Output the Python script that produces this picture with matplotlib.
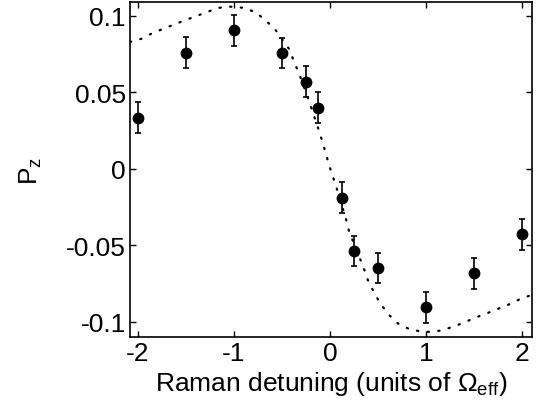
import matplotlib
matplotlib.use("Agg")
import matplotlib.pyplot as plt

# measured points (detuning in units of Omega_eff)
det = [-2.0, -1.5, -1.0, -0.5, -0.25, -0.125, 0.125, 0.25, 0.5, 1.0, 1.5, 2.0]
pz = [0.0333, 0.0758, 0.0904, 0.0756, 0.057, 0.040, -0.019, -0.0538, -0.0649, -0.0906, -0.0684, -0.0429]
pz_err = [0.0100, 0.0100, 0.0100, 0.0100, 0.0100, 0.0100, 0.0100, 0.0100, 0.0100, 0.0100, 0.0100, 0.0100]

# theory curve
th_x = [-2.08, -1.96, -1.85, -1.74, -1.62, -1.51, -1.39, -1.28, -1.17, -1.06, -0.97, -0.88,
        -0.77, -0.68, -0.57, -0.42, -0.375, -0.32, -0.23, -0.104, -0.066, -0.028, 0.01,
        0.052, 0.167, 0.2, 0.347, 0.39, 0.45, 0.52, 0.61, 0.71, 0.83, 0.94, 1.05, 1.16,
        1.27, 1.39, 1.5, 1.62, 1.73, 1.85, 1.97, 2.1]
th_y = [0.0828, 0.085, 0.0885, 0.0913, 0.0943, 0.097, 0.0998, 0.1024, 0.105, 0.106, 0.1057, 0.105,
        0.102, 0.0976, 0.091, 0.0778, 0.070, 0.062, 0.0464, 0.0229, 0.0148, 0.0065, -0.0015,
        -0.0092, -0.0331, -0.0414, -0.0643, -0.0723, -0.080, -0.0878, -0.0954, -0.1013, -0.105, -0.1063, -0.1067, -0.1057,
        -0.1035, -0.1007, -0.0976, -0.0948, -0.092, -0.089, -0.0854, -0.0824]

plt.rcParams["font.family"] = ["Liberation Sans", "DejaVu Sans"]
plt.rcParams["mathtext.fontset"] = "custom"
plt.rcParams["mathtext.rm"] = "Liberation Sans"
plt.rcParams["mathtext.it"] = "Liberation Sans"

FS = 19
fig = plt.figure(figsize=(5.38, 4.14), dpi=100)
ax = fig.add_axes([0.2416, 0.1836, 0.7472, 0.8092])

ax.plot(th_x, th_y, color="k", lw=1.6, linestyle=(0, (0.6, 4.2)), dash_capstyle="round")
ax.errorbar(det, pz, yerr=pz_err, fmt="o", color="k", ms=7.5, capsize=2.5, elinewidth=1.2, capthick=1.2)

ax.set_xlim(-2.08, 2.1)
ax.set_ylim(-0.11, 0.109)
ax.set_xticks([-2, -1, 0, 1, 2])
ax.set_yticks([-0.1, -0.05, 0, 0.05, 0.1])
ax.set_xticklabels(["-2", "-1", "0", "1", "2"])
ax.set_yticklabels(["-0.1", "-0.05", "0", "0.05", "0.1"])
ax.tick_params(direction="in", length=4, width=1, labelsize=FS, top=True, right=True, pad=3)
for s in ax.spines.values():
    s.set_linewidth(1.2)

ax.set_xlabel(r"Raman detuning (units of $\Omega_{\rm eff}$)", fontsize=FS, labelpad=3)
ax.set_ylabel(r"P$_{\rm z}$", fontsize=FS, labelpad=16)

fig.savefig("out.png", dpi=100)
